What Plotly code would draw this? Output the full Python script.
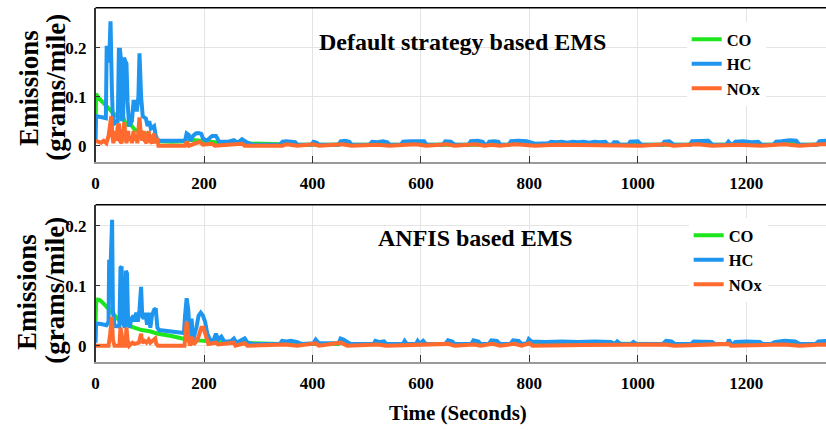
import plotly.graph_objects as go

# ---------------- Default strategy based EMS (breakpoints: seconds, grams/mile) ----------------
co_def_t = [0, 1, 5, 10, 15, 20, 24, 28, 33, 40, 46, 50, 55, 60, 65, 72, 80, 88, 95, 100, 108, 115,
            120, 140, 165, 175, 190, 200, 215, 230, 260, 290, 340, 348, 368, 372, 448, 455, 468, 472,
            563, 570, 606, 610, 762, 770, 800, 810, 945, 1096, 1105, 1133, 1137, 1250, 1260, 1292,
            1298, 1330, 1340, 1370]
co_def_v = [0.04, 0.106, 0.098, 0.092, 0.086, 0.080, 0.076, 0.071, 0.066, 0.060, 0.056, 0.062, 0.046,
            0.042, 0.043, 0.033, 0.030, 0.026, 0.024, 0.020, 0.015, 0.011, 0.009, 0.008, 0.009, 0.012,
            0.010, 0.009, 0.008, 0.006, 0.005, 0.004, 0.003, 0.005, 0.005, 0.002, 0.002, 0.006, 0.005,
            0.002, 0.002, 0.005, 0.005, 0.002, 0.002, 0.006, 0.005, 0.003, 0.002, 0.002, 0.006, 0.006,
            0.002, 0.002, 0.005, 0.006, 0.002, 0.002, 0.006, 0.006]

hc_def_t = [0, 1, 12, 19, 20.5, 23, 25, 27.6, 30, 31.6, 34.6, 41, 43, 45, 46.5, 49, 51, 52.5, 55, 57,
            59, 62, 67, 70, 73, 76, 79, 81, 84, 87, 93, 96, 99, 102, 108, 111, 115, 140, 165, 168, 172,
            175, 180, 185, 190, 195, 198, 205, 215, 222, 228, 245, 255, 262, 270, 280, 290, 340, 345,
            352, 360, 368, 372, 398, 402, 408, 412, 448, 452, 460, 468, 472, 505, 510, 520, 530, 538,
            542, 563, 567, 580, 595, 606, 610, 640, 645, 655, 662, 688, 692, 705, 714, 718, 722, 726,
            735, 743, 746, 762, 766, 780, 795, 803, 810, 835, 840, 850, 860, 870, 880, 890, 900, 910,
            920, 930, 940, 945, 953, 956, 962, 967, 983, 986, 1000, 1006, 1045, 1049, 1058, 1066, 1096,
            1100, 1115, 1130, 1137, 1163, 1167, 1172, 1175, 1180, 1195, 1210, 1222, 1228, 1250, 1255,
            1265, 1280, 1292, 1298, 1330, 1335, 1350, 1370]
hc_def_v = [0.010, 0.060, 0.058, 0.056, 0.200, 0.200, 0.170, 0.254, 0.120, 0.064, 0.045, 0.050, 0.196,
            0.196, 0.180, 0.050, 0.060, 0.180, 0.172, 0.168, 0.090, 0.040, 0.050, 0.090, 0.090, 0.070,
            0.100, 0.189, 0.100, 0.060, 0.055, 0.040, 0.050, 0.035, 0.040, 0.020, 0.010, 0.009, 0.010,
            0.025, 0.022, 0.010, 0.020, 0.025, 0.026, 0.024, 0.015, 0.010, 0.020, 0.020, 0.008, 0.008,
            0.011, 0.006, 0.013, 0.006, 0.002, 0.002, 0.008, 0.009, 0.008, 0.007, 0.002, 0.002, 0.008,
            0.006, 0.002, 0.002, 0.009, 0.010, 0.008, 0.002, 0.002, 0.008, 0.007, 0.009, 0.007, 0.002,
            0.002, 0.008, 0.009, 0.009, 0.009, 0.002, 0.002, 0.009, 0.008, 0.002, 0.002, 0.009, 0.010,
            0.008, 0.002, 0.002, 0.008, 0.009, 0.008, 0.002, 0.002, 0.009, 0.010, 0.009, 0.006, 0.004,
            0.005, 0.008, 0.007, 0.008, 0.006, 0.008, 0.007, 0.008, 0.006, 0.008, 0.007, 0.008, 0.002,
            0.002, 0.007, 0.007, 0.002, 0.002, 0.008, 0.009, 0.002, 0.002, 0.008, 0.009, 0.002, 0.002,
            0.009, 0.010, 0.010, 0.002, 0.002, 0.008, 0.002, 0.002, 0.008, 0.009, 0.007, 0.008, 0.002,
            0.002, 0.008, 0.009, 0.011, 0.010, 0.002, 0.002, 0.009, 0.010, 0.008]

nox_def_t = [0, 5, 10, 15, 20, 24, 27, 29, 31, 33, 36, 38, 41, 43, 45, 48, 51, 53, 55, 57, 60, 62, 65,
             67, 70, 72, 75, 77, 79, 81, 83, 86, 89, 91, 94, 98, 100, 104, 108, 110, 114, 116, 165, 168,
             172, 185, 192, 198, 215, 220, 270, 275, 345, 352, 372, 402, 412, 455, 472, 520, 542, 590,
             610, 648, 662, 700, 718, 730, 746, 775, 810, 850, 900, 945, 990, 1006, 1052, 1066, 1110,
             1137, 1185, 1228, 1270, 1298, 1340, 1370]
nox_def_v = [0.010, 0.008, 0.006, 0.010, 0.005, 0.020, 0.050, 0.060, 0.020, 0.005, 0.030, 0.010, 0.040,
             0.045, 0.010, 0.005, 0.030, 0.048, 0.020, 0.005, 0.030, 0.010, 0.020, 0.005, 0.030, 0.010,
             0.020, 0.005, 0.030, 0.058, 0.030, 0.010, 0.030, 0.010, 0.005, 0.030, 0.010, 0.005, 0.025,
             0.005, 0.015, 0.000, 0.000, 0.008, 0.000, 0.006, 0.008, 0.002, 0.004, 0.000, 0.004, 0.000,
             0.000, 0.003, 0.000, 0.003, 0.000, 0.003, 0.000, 0.002, 0.000, 0.003, 0.000, 0.003, 0.000,
             0.003, 0.000, 0.002, 0.000, 0.003, 0.000, 0.002, 0.002, 0.000, 0.002, 0.000, 0.003, 0.000,
             0.003, 0.000, 0.002, 0.000, 0.003, 0.000, 0.003, 0.002]

# ---------------- ANFIS based EMS ----------------
co_anf_t = [0, 1, 4, 8, 14, 20, 28, 35, 45, 55, 70, 85, 100, 115, 140, 165, 170, 200, 230, 280, 290,
            340, 448, 455, 464, 470, 796, 800, 806, 950, 958, 1046, 1055, 1062, 1068, 1246, 1260, 1290,
            1298, 1328, 1340, 1370]
co_anf_v = [0.040, 0.072, 0.077, 0.076, 0.071, 0.065, 0.057, 0.050, 0.041, 0.035, 0.030, 0.026, 0.024,
            0.020, 0.016, 0.012, 0.010, 0.008, 0.006, 0.005, 0.004, 0.003, 0.003, 0.007, 0.004, 0.003,
            0.003, 0.006, 0.004, 0.004, 0.003, 0.003, 0.006, 0.005, 0.003, 0.003, 0.006, 0.006, 0.003,
            0.003, 0.006, 0.006]

hc_anf_t = [0, 1, 10, 20, 24, 25, 28, 30.5, 32, 35, 44, 46, 48, 50, 54, 56, 58, 60, 63, 66, 70, 72,
            75, 78, 81, 84, 86, 89, 92, 95, 98, 101, 104, 108, 111, 114, 117, 140, 163, 165, 168, 171,
            174, 177, 180, 186, 190, 194, 198, 202, 206, 212, 218, 222, 226, 232, 238, 250, 255, 260,
            268, 275, 280, 290, 340, 344, 352, 360, 372, 380, 402, 406, 412, 448, 452, 458, 464, 470,
            513, 516, 524, 532, 536, 567, 570, 574, 591, 594, 598, 604, 609, 645, 650, 658, 662, 693,
            697, 706, 710, 725, 730, 740, 746, 765, 770, 780, 786, 796, 799, 804, 830, 860, 890, 920,
            950, 958, 962, 968, 988, 992, 997, 1046, 1052, 1062, 1068, 1098, 1103, 1120, 1137, 1142,
            1165, 1168, 1172, 1176, 1180, 1200, 1225, 1230, 1246, 1252, 1270, 1290, 1298, 1328, 1333,
            1350, 1370]
hc_anf_v = [0.005, 0.037, 0.036, 0.034, 0.040, 0.140, 0.140, 0.210, 0.060, 0.033, 0.032, 0.130, 0.132,
            0.040, 0.030, 0.125, 0.120, 0.040, 0.030, 0.045, 0.050, 0.040, 0.055, 0.040, 0.060, 0.098,
            0.050, 0.045, 0.055, 0.035, 0.055, 0.030, 0.050, 0.060, 0.062, 0.030, 0.026, 0.023, 0.021,
            0.050, 0.079, 0.060, 0.010, 0.045, 0.010, 0.030, 0.050, 0.055, 0.050, 0.040, 0.020, 0.008,
            0.010, 0.020, 0.010, 0.015, 0.006, 0.008, 0.012, 0.005, 0.008, 0.012, 0.005, 0.003, 0.003,
            0.008, 0.007, 0.008, 0.006, 0.003, 0.004, 0.010, 0.004, 0.004, 0.012, 0.010, 0.006, 0.003,
            0.003, 0.008, 0.006, 0.007, 0.003, 0.003, 0.008, 0.003, 0.003, 0.008, 0.003, 0.008, 0.003,
            0.003, 0.009, 0.007, 0.003, 0.003, 0.009, 0.007, 0.003, 0.003, 0.009, 0.008, 0.003, 0.003,
            0.009, 0.008, 0.003, 0.004, 0.011, 0.007, 0.006, 0.007, 0.006, 0.007, 0.006, 0.003, 0.007,
            0.003, 0.003, 0.006, 0.003, 0.003, 0.008, 0.007, 0.003, 0.003, 0.007, 0.007, 0.006, 0.003,
            0.003, 0.010, 0.003, 0.003, 0.006, 0.007, 0.006, 0.003, 0.003, 0.006, 0.008, 0.007, 0.003,
            0.003, 0.007, 0.008, 0.007]

nox_anf_t = [0, 24, 27, 30, 32, 35, 44, 46, 48, 50, 55, 57, 59, 62, 68, 72, 80, 84, 86, 90, 94, 98,
             101, 106, 110, 112, 115, 164, 166, 168, 171, 174, 178, 181, 188, 192, 195, 199, 203, 208,
             222, 226, 255, 258, 275, 280, 350, 372, 406, 412, 452, 464, 520, 536, 650, 662, 698, 710,
             732, 746, 772, 786, 800, 806, 900, 1050, 1068, 1168, 1172, 1270, 1298, 1340, 1370]
nox_anf_v = [0.000, 0.000, 0.020, 0.048, 0.010, 0.000, 0.000, 0.030, 0.020, 0.000, 0.000, 0.030, 0.010,
             0.000, 0.005, 0.003, 0.005, 0.020, 0.005, 0.008, 0.005, 0.010, 0.005, 0.008, 0.012, 0.003,
             0.000, 0.000, 0.030, 0.040, 0.015, 0.000, 0.015, 0.002, 0.010, 0.025, 0.030, 0.030, 0.015,
             0.003, 0.005, 0.002, 0.005, 0.000, 0.004, 0.000, 0.002, 0.000, 0.004, 0.000, 0.005, 0.000,
             0.002, 0.000, 0.003, 0.000, 0.002, 0.000, 0.003, 0.000, 0.003, 0.000, 0.004, 0.000, 0.001,
             0.002, 0.000, 0.003, 0.000, 0.002, 0.000, 0.002, 0.000]

series_names = ["CO", "HC", "NOx"]
series_colors = ["#1ee61e", "#1e96f0", "#ff6a2e"]
panel_titles = ["Default strategy based EMS", "ANFIS based EMS"]
x_ticks = [0, 200, 400, 600, 800, 1000, 1200]
y_ticks = [0, 0.1, 0.2]

SERIF = "Liberation Serif, Times New Roman, serif"

fig = go.Figure()

panels = [
    [(co_def_t, co_def_v), (hc_def_t, hc_def_v), (nox_def_t, nox_def_v)],
    [(co_anf_t, co_anf_v), (hc_anf_t, hc_anf_v), (nox_anf_t, nox_anf_v)],
]
for p, data in enumerate(panels):
    xa = "x" if p == 0 else "x2"
    ya = "y" if p == 0 else "y2"
    lg = "legend" if p == 0 else "legend2"
    for (t, v), name, color in zip(data, series_names, series_colors):
        fig.add_trace(go.Scatter(x=t, y=v, mode="lines", name=name, xaxis=xa, yaxis=ya,
                                 legend=lg, line=dict(color=color, width=4)))

W, H = 826, 430
x_dom = [92.0 / W, 1.0]
y_dom_top = [1 - 162.3 / H, 1 - 7.7 / H]
y_dom_bot = [1 - 361.7 / H, 1 - 204.7 / H]

tick_font = dict(family=SERIF, size=17, color="black", weight="bold")
xcommon = dict(range=[0, 1347], tickvals=x_ticks, showgrid=True, gridcolor="#e4e4e4", gridwidth=1,
               showline=True, linecolor="#9a9a9a", linewidth=1.5, ticks="inside", ticklen=7,
               tickcolor="#333", tickfont=tick_font, zeroline=False, ticklabelstandoff=5)
ycommon = dict(tickvals=y_ticks, ticktext=["0", "0.1", "0.2"], showgrid=True, gridcolor="#e4e4e4",
               gridwidth=1, showline=True, linecolor="#333", linewidth=1.5, ticks="inside", ticklen=5,
               tickcolor="#333", tickfont=tick_font, zeroline=False, ticklabelstandoff=4)

legend_common = dict(xanchor="left", yanchor="top", bgcolor="white", borderwidth=0,
                     font=dict(family=SERIF, size=16.5, color="black", weight="bold"),
                     itemwidth=30, tracegroupgap=0)

fig.update_layout(
    width=W, height=H, autosize=False,
    margin=dict(l=0, r=0, t=0, b=0),
    paper_bgcolor="white", plot_bgcolor="white",
    font=dict(family=SERIF, color="black"),
    xaxis=dict(domain=x_dom, anchor="y", **xcommon),
    yaxis=dict(domain=y_dom_top, anchor="x", range=[-0.034, 0.282], **ycommon),
    xaxis2=dict(domain=x_dom, anchor="y2", **xcommon),
    yaxis2=dict(domain=y_dom_bot, anchor="x2", range=[-0.0267, 0.235], **ycommon),
    legend=dict(x=686 / W, y=1 - 22 / H, **legend_common),
    legend2=dict(x=688 / W, y=1 - 218 / H, **legend_common),
    showlegend=True,
)

# box tops of both panels
for xr, yr in (("x domain", "y domain"), ("x2 domain", "y2 domain")):
    fig.add_shape(type="line", xref=xr, yref=yr, x0=0, x1=1, y0=1, y1=1,
                  line=dict(color="black", width=1.5))

def ann(text, x, y, size, angle=0):
    fig.add_annotation(text=f"<b>{text}</b>", x=x / W, y=1 - y / H, xref="paper", yref="paper",
                       showarrow=False, textangle=angle, xanchor="center", yanchor="middle",
                       font=dict(family=SERIF, size=size, color="black"))

ann(panel_titles[0], 461, 42, 24)
ann(panel_titles[1], 474, 238, 24)
ann("Time (Seconds)", 456, 413, 21)
ann("Emissions", 25, 88, 27, -90)
ann("(grams/mile)", 52, 87, 27, -90)
ann("Emissions", 23, 292, 27, -90)
ann("(grams/mile)", 51, 290, 27, -90)

fig.write_html("out.html")
